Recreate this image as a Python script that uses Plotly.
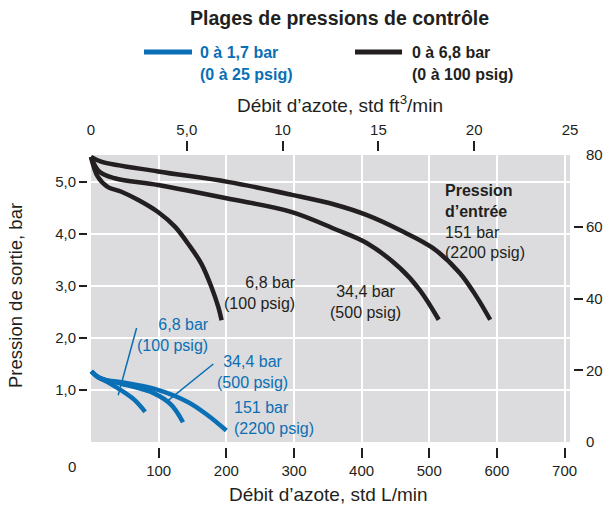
import plotly.graph_objects as go

# ---- data: flow in std L/min, outlet pressure in bar ----
# 0 to 6,8 bar control range, one curve per inlet pressure
black_68_flow = [0, 10, 25, 45, 70, 99, 124, 143, 163, 178, 188, 193]
black_68_bar = [5.48, 5.10, 4.90, 4.81, 4.65, 4.42, 4.14, 3.82, 3.43, 2.98, 2.60, 2.34]
black_344_flow = [0, 12, 35, 99, 202, 297, 361, 408, 457, 486, 514]
black_344_bar = [5.48, 5.20, 5.07, 4.94, 4.68, 4.42, 4.09, 3.82, 3.34, 2.92, 2.35]
black_151_flow = [0, 15, 99, 202, 297, 361, 408, 457, 505, 545, 570, 590]
black_151_bar = [5.48, 5.39, 5.20, 5.00, 4.75, 4.56, 4.36, 4.07, 3.73, 3.25, 2.79, 2.35]

# 0 to 1,7 bar control range
blue_68_flow = [0.5, 10, 25, 45, 65, 80]
blue_68_bar = [1.36, 1.25, 1.15, 0.99, 0.80, 0.58]
blue_344_flow = [0.5, 10, 22, 45, 94, 119, 136]
blue_344_bar = [1.36, 1.25, 1.19, 1.12, 0.93, 0.71, 0.38]
blue_151_flow = [0.5, 10, 22, 45, 94, 143, 173, 200]
blue_151_bar = [1.36, 1.25, 1.19, 1.15, 1.02, 0.77, 0.51, 0.22]

# axis ticks
lpm_ticks = [100, 200, 300, 400, 500, 600, 700]
cfm_ticks = [5, 10, 15, 20]
cfm_ticktext = ["5,0", "10", "15", "20"]
cfm_end_ticks = [0, 25]
bar_ticks = [1, 2, 3, 4, 5]
bar_ticktext = ["1,0", "2,0", "3,0", "4,0", "5,0"]
psig_ticks = [20, 40, 60]
psig_end_ticks = [0, 80]

L_PER_FT3 = 28.3168
PSI_PER_BAR = 14.5038

BLUE = "#0a6fb4"
BLACK = "#231f20"
PANEL = "#dcdcde"
FONT = "Liberation Sans, Arial, Helvetica, sans-serif"

W, H = 603, 507
ML, MR, MT, MB = 88, 30, 152, 60
PW, PH = W - ML - MR, H - MT - MB

# panel extent in data units; axes sit a few pixels outside it
panel_x = [0, 708]
panel_y = [0, 80 / PSI_PER_BAR]
x_range = [-4.43, 712.4]
y_range = [-0.096, 5.574]


def px_x(px):
    return (px - ML) / PW


def px_y(py):
    return (H - MB - py) / PH


fig = go.Figure()

curves = [
    (black_68_flow, black_68_bar, BLACK),
    (black_344_flow, black_344_bar, BLACK),
    (black_151_flow, black_151_bar, BLACK),
    (blue_68_flow, blue_68_bar, BLUE),
    (blue_344_flow, blue_344_bar, BLUE),
    (blue_151_flow, blue_151_bar, BLUE),
]
for fx, fy, col in curves:
    fig.add_trace(go.Scatter(
        x=fx, y=fy, mode="lines",
        line=dict(color=col, width=4.5, shape="spline", smoothing=1.0),
        showlegend=False, hoverinfo="skip",
    ))

# empty traces so the secondary (ft3/min and psig) scales are drawn
for xa, ya in [("x2", "y"), ("x3", "y"), ("x", "y2"), ("x", "y3")]:
    fig.add_trace(go.Scatter(x=[], y=[], xaxis=xa, yaxis=ya,
                             showlegend=False, hoverinfo="skip"))

tick_font = dict(family=FONT, size=15, color=BLACK)
common = dict(showgrid=False, zeroline=False, showline=False,
              tickfont=tick_font, automargin=False)

fig.update_layout(
    template="none",
    width=W, height=H,
    margin=dict(l=ML, r=MR, t=MT, b=MB, pad=0),
    paper_bgcolor="white",
    plot_bgcolor="white",
    font=dict(family=FONT, color=BLACK),
    showlegend=False,
    xaxis=dict(
        common, range=x_range, tickvals=lpm_ticks,
        ticktext=[str(v) for v in lpm_ticks],
        ticks="outside", ticklen=10, tickwidth=1.5, tickcolor=BLACK,
        showgrid=True, gridcolor="white", gridwidth=2,
    ),
    xaxis2=dict(
        common, overlaying="x", side="top", anchor="y",
        range=[v / L_PER_FT3 for v in x_range],
        tickvals=cfm_ticks, ticktext=cfm_ticktext,
        ticks="outside", ticklen=10, tickwidth=1.5, tickcolor=BLACK,
    ),
    xaxis3=dict(
        common, overlaying="x", side="top", anchor="y",
        range=[v / L_PER_FT3 for v in x_range],
        tickvals=cfm_end_ticks, ticktext=[str(v) for v in cfm_end_ticks],
        ticks="outside", ticklen=10, tickcolor="rgba(0,0,0,0)",
    ),
    yaxis=dict(
        common, range=y_range, tickvals=bar_ticks, ticktext=bar_ticktext,
        ticks="outside", ticklen=8, tickwidth=1.5, tickcolor=BLACK,
        showgrid=True, gridcolor="white", gridwidth=2,
    ),
    yaxis2=dict(
        common, overlaying="y", side="right", anchor="x",
        range=[v * PSI_PER_BAR for v in y_range],
        tickvals=psig_ticks, ticktext=[str(v) for v in psig_ticks],
        ticks="outside", ticklen=9, tickwidth=1.5, tickcolor=BLACK,
    ),
    yaxis3=dict(
        common, overlaying="y", side="right", anchor="x",
        range=[v * PSI_PER_BAR for v in y_range],
        tickvals=psig_end_ticks, ticktext=[str(v) for v in psig_end_ticks],
        ticks="outside", ticklen=9, tickcolor="rgba(0,0,0,0)",
    ),
)

shapes = [
    # grey chart panel
    dict(type="rect", xref="x", yref="y", layer="below",
         x0=panel_x[0], x1=panel_x[1], y0=panel_y[0], y1=panel_y[1],
         fillcolor=PANEL, line=dict(width=0)),
    # leader lines for the low-range curve labels
    dict(type="line", xref="x", yref="y", x0=67.4, y0=2.19, x1=40.2, y1=0.90,
         line=dict(color=BLUE, width=1.5)),
    dict(type="line", xref="x", yref="y", x0=180.8, y0=1.50, x1=112.3, y1=0.78,
         line=dict(color=BLUE, width=1.5)),
    # legend keys
    dict(type="line", xref="paper", yref="paper",
         x0=px_x(144), x1=px_x(192), y0=px_y(52), y1=px_y(52),
         line=dict(color=BLUE, width=5)),
    dict(type="line", xref="paper", yref="paper",
         x0=px_x(355), x1=px_x(402), y0=px_y(52), y1=px_y(52),
         line=dict(color=BLACK, width=5)),
]
fig.update_layout(shapes=shapes)


def note(text, x, y, xref="paper", yref="paper", size=16, color=BLACK,
         xanchor="center", yanchor="middle", align="center", angle=0):
    fig.add_annotation(
        text=text, x=x, y=y, xref=xref, yref=yref, showarrow=False,
        xanchor=xanchor, yanchor=yanchor, align=align, textangle=angle,
        font=dict(family=FONT, size=size, color=color),
    )


# title and legend
note("<b>Plages de pressions de contrôle</b>", px_x(339), px_y(18), size=19.5)
note("<b>0 à 1,7 bar</b>", px_x(198), px_y(52), color=BLUE, xanchor="left")
note("<b>(0 à 25 psig)</b>", px_x(198), px_y(75), color=BLUE, xanchor="left")
note("<b>0 à 6,8 bar</b>", px_x(410), px_y(52), xanchor="left")
note("<b>(0 à 100 psig)</b>", px_x(410), px_y(75), xanchor="left")

# axis titles
note("Débit d’azote, std ft<sup>3</sup>/min", px_x(340), px_y(104), size=19)
note("Débit d’azote, std L/min", px_x(328), px_y(494), size=19)
note("Pression de sortie, bar", px_x(15), px_y(296), size=18.5, angle=-90)
note("0", px_x(72), px_y(466), size=15)

# curve labels (inlet pressures)
note("6,8 bar<br>(100 psig)", 306, 2.86, xref="x", yref="y",
     xanchor="right", align="right")
note("34,4 bar<br>(500 psig)", 406, 2.70, xref="x", yref="y")
note("<b>Pression<br>d’entrée</b><br>151 bar<br>(2200 psig)", 520, 4.23,
     xref="x", yref="y", xanchor="left", align="left")
note("6,8 bar<br>(100 psig)", 177, 2.06, xref="x", yref="y", color=BLUE,
     xanchor="right", align="right")
note("34,4 bar<br>(500 psig)", 238, 1.35, xref="x", yref="y", color=BLUE)
note("151 bar<br>(2200 psig)", 208, 0.46, xref="x", yref="y", color=BLUE,
     xanchor="left", align="left")

fig.write_html("out.html")
